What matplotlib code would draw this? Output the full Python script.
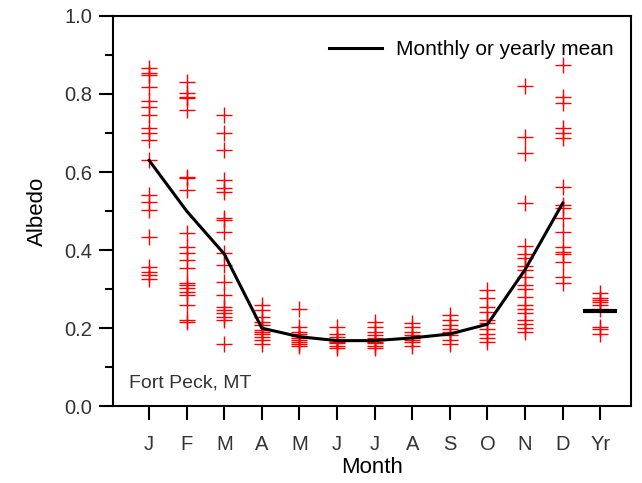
import matplotlib
matplotlib.use("Agg")
import matplotlib.pyplot as plt
from matplotlib.ticker import MultipleLocator

plt.rcParams['font.family'] = ['Liberation Sans', 'DejaVu Sans']

labels = ["J", "F", "M", "A", "M", "J", "J", "A", "S", "O", "N", "D", "Yr"]

jan = [0.866, 0.853, 0.849, 0.817, 0.783, 0.767, 0.746, 0.714, 0.699, 0.682,
       0.631, 0.541, 0.524, 0.503, 0.434, 0.357, 0.345, 0.336, 0.325]
feb = [0.832, 0.802, 0.793, 0.789, 0.759, 0.588, 0.584, 0.554, 0.443, 0.408,
       0.392, 0.374, 0.353, 0.315, 0.310, 0.302, 0.293, 0.285, 0.259, 0.221, 0.216]
mar = [0.746, 0.699, 0.656, 0.579, 0.558, 0.550, 0.481, 0.477, 0.447, 0.392,
       0.362, 0.319, 0.285, 0.255, 0.246, 0.238, 0.229, 0.221, 0.160]
apr = [0.259, 0.246, 0.229, 0.216, 0.208, 0.195, 0.190, 0.186, 0.178, 0.169, 0.160]
may = [0.250, 0.203, 0.190, 0.185, 0.180, 0.175, 0.170, 0.165, 0.160, 0.155]
jun = [0.203, 0.186, 0.178, 0.170, 0.165, 0.161, 0.155, 0.150]
jul = [0.216, 0.203, 0.190, 0.182, 0.174, 0.165, 0.161, 0.155, 0.150]
aug = [0.212, 0.203, 0.190, 0.182, 0.174, 0.169, 0.165, 0.155]
sep = [0.233, 0.221, 0.208, 0.199, 0.190, 0.182, 0.169, 0.160]
octo = [0.297, 0.276, 0.255, 0.242, 0.221, 0.212, 0.199, 0.186, 0.174, 0.165]
nov = [0.82, 0.69, 0.65, 0.52, 0.41, 0.39, 0.38, 0.36, 0.35, 0.33, 0.31,
       0.30, 0.28, 0.26, 0.25, 0.24, 0.22, 0.21, 0.20, 0.19]
dec = [0.874, 0.793, 0.776, 0.712, 0.699, 0.686, 0.562, 0.515, 0.507, 0.481,
       0.447, 0.408, 0.396, 0.391, 0.370, 0.332, 0.315]
yr = [0.289, 0.276, 0.272, 0.267, 0.259, 0.250, 0.203, 0.199, 0.186]

monthly_mean = [0.63, 0.50, 0.39, 0.20, 0.178, 0.168, 0.168, 0.175, 0.185, 0.21, 0.35, 0.52]
yearly_mean = 0.245

groups = [jan, feb, mar, apr, may, jun, jul, aug, sep, octo, nov, dec, yr]

fig = plt.figure(figsize=(6.42, 4.83), dpi=100)
ax = fig.add_axes([0.176, 0.159, 0.807, 0.808])

for i, g in enumerate(groups):
    ax.plot([i + 1] * len(g), g, linestyle='none', marker='+', color='#ff0000',
            markersize=12, markeredgewidth=1.0, zorder=2)

ax.plot(range(1, 13), monthly_mean, color='black', linewidth=2.2,
        label='Monthly or yearly mean', zorder=3)
ax.plot([12.6, 13.4], [yearly_mean, yearly_mean], color='black', linewidth=3, zorder=3)

ax.set_xlim(0.04, 13.82)
ax.set_ylim(0, 1.0)
ax.set_xticks(range(1, 14))
ax.set_xticklabels(labels)
ax.set_yticks([0, 0.2, 0.4, 0.6, 0.8, 1.0])
ax.set_yticklabels([f"{v:.1f}" for v in [0, 0.2, 0.4, 0.6, 0.8, 1.0]])
ax.yaxis.set_minor_locator(MultipleLocator(0.1))

ax.tick_params(axis='both', which='major', direction='out', length=10, width=1.5,
               labelsize=14.5, labelcolor='#333333')
ax.tick_params(axis='y', which='minor', direction='out', length=6, width=1.5)
ax.tick_params(axis='x', which='major', pad=11)
ax.tick_params(axis='y', which='major', pad=5)
for s in ax.spines.values():
    s.set_linewidth(1.5)

ax.set_xlabel('Month', fontsize=16, labelpad=2)
ax.set_ylabel('Albedo', fontsize=16, labelpad=12)

ax.text(0.03, 0.06, 'Fort Peck, MT', transform=ax.transAxes, fontsize=14,
        color='#333333', ha='left', va='center')

ax.legend(loc='center right', frameon=False, fontsize=15, handlelength=2.55,
          handletextpad=0.7, borderaxespad=0, bbox_to_anchor=(0.983, 0.913))

fig.savefig('out.png', dpi=100)
